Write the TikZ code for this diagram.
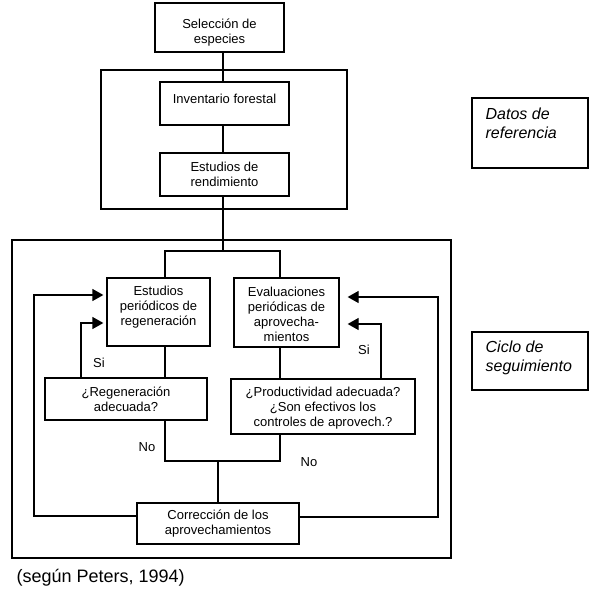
\documentclass[tikz,border=0pt]{standalone}
\usepackage{fontspec}
\setmainfont{Liberation Sans}
\usetikzlibrary{arrows.meta}
\begin{document}
\begin{tikzpicture}[x=1pt,y=-1pt,
  line width=1.3pt,
  box/.style={draw, rectangle, inner sep=0pt, align=center, font=\fontsize{13}{15}\selectfont},
  frame/.style={draw, rectangle, inner sep=0pt},
  txt/.style={inner sep=0pt, align=center, font=\fontsize{13}{15}\selectfont},
  lbl/.style={font=\fontsize{13}{15}\selectfont, inner sep=0pt},
  side/.style={font=\fontsize{16}{19}\selectfont\itshape, align=left, inner sep=0pt, anchor=north west},
  arr/.style={-{Triangle[length=11pt,width=12pt]}}
]
\useasboundingbox (0,0) rectangle (600,602);
% outer frames
\node[frame, minimum width=246, minimum height=139] (datosframe) at (224,139.5) {};
\node[frame, minimum width=439, minimum height=318] (cicloframe) at (231.5,399) {};
% top boxes
\node[box, fill=white, minimum width=129, minimum height=49] (sel) at (219.5,27.5) {};
\node[txt] (seltxt) at (219.5,32.5) {Selección de\\especies};
\node[box, fill=white, minimum width=129, minimum height=43] (inv) at (224.5,103.5) {};
\node[txt] (invtxt) at (224.5,99) {Inventario forestal};
\node[box, fill=white, minimum width=129, minimum height=43] (est) at (224.5,174.5) {Estudios de\\rendimiento};
% cycle boxes
\node[box, minimum width=103, minimum height=68] (epr) at (158.5,312) {};
\node[txt] (eprtxt) at (158.5,307.5) {Estudios\\periódicos de\\regeneración};
\node[box, minimum width=105, minimum height=69] (eva) at (286.5,312.5) {};
\node[txt] (evatxt) at (286.5,314.5) {Evaluaciones\\periódicas de\\aprovecha-\\mientos};
\node[box, minimum width=162, minimum height=42] (reg) at (126,399) {¿Regeneración\\adecuada?};
\node[box, minimum width=184, minimum height=55] (pro) at (323,406.5) {};
\node[txt] (protxt) at (323,408) {¿Productividad adecuada?\\¿Son efectivos los\\controles de aprovech.?};
\node[box, minimum width=162, minimum height=41] (cor) at (218,523.5) {Corrección de los\\aprovechamientos};
% side boxes
\node[frame, minimum width=116, minimum height=70] (datos) at (530,133) {};
\node[side] (datostxt) at (485,107) {Datos de\\referencia};
\node[frame, minimum width=116, minimum height=58] (ciclo) at (530,361) {};
\node[side] (ciclotxt) at (485,340) {Ciclo de\\seguimiento};
% caption
\node[font=\fontsize{18}{21}\selectfont, inner sep=0pt, anchor=west] (cap) at (16,578) {(según Peters, 1994)};
% labels
\node[lbl] (si1) at (99,363) {Si};
\node[lbl] (no1) at (147,447) {No};
\node[lbl] (si2) at (364,350) {Si};
\node[lbl] (no2) at (309,462) {No};
% helper coordinates
\coordinate (spine) at (223,0);
\coordinate (lx) at (165,0);
\coordinate (rx) at (280,0);
\coordinate (j1) at (223,251);
\coordinate (j2) at (218,461);
\coordinate (lloop) at (34,516);
\coordinate (rloop) at (438,517);
\coordinate (lsi) at (81,323);
\coordinate (rsi) at (381,324);
\coordinate (ya) at (0,295);
\coordinate (yb) at (0,297);
% spine
\draw (spine |- sel.south) -- (spine |- inv.north);
\draw (spine |- inv.south) -- (spine |- est.north);
\draw (spine |- est.south) -- (j1);
\draw (lx |- epr.north) |- (j1) -| (rx |- eva.north);
\draw (lx |- epr.south) -- (lx |- reg.north);
\draw (rx |- eva.south) -- (rx |- pro.north);
\draw (lx |- reg.south) |- (j2) -| (rx |- pro.south);
\draw (j2) -- (j2 |- cor.north);
% loops
\draw[arr, shorten >=3pt] (cor.west |- lloop) -- (lloop) |- (epr.west |- ya);
\draw[arr, shorten >=3pt] (lsi |- reg.north) |- (epr.west |- lsi);
\draw[arr, shorten >=8pt] (cor.east |- rloop) -- (rloop) |- (eva.east |- yb);
\draw[arr, shorten >=8pt] (rsi |- pro.north) |- (eva.east |- rsi);
\end{tikzpicture}
\end{document}
